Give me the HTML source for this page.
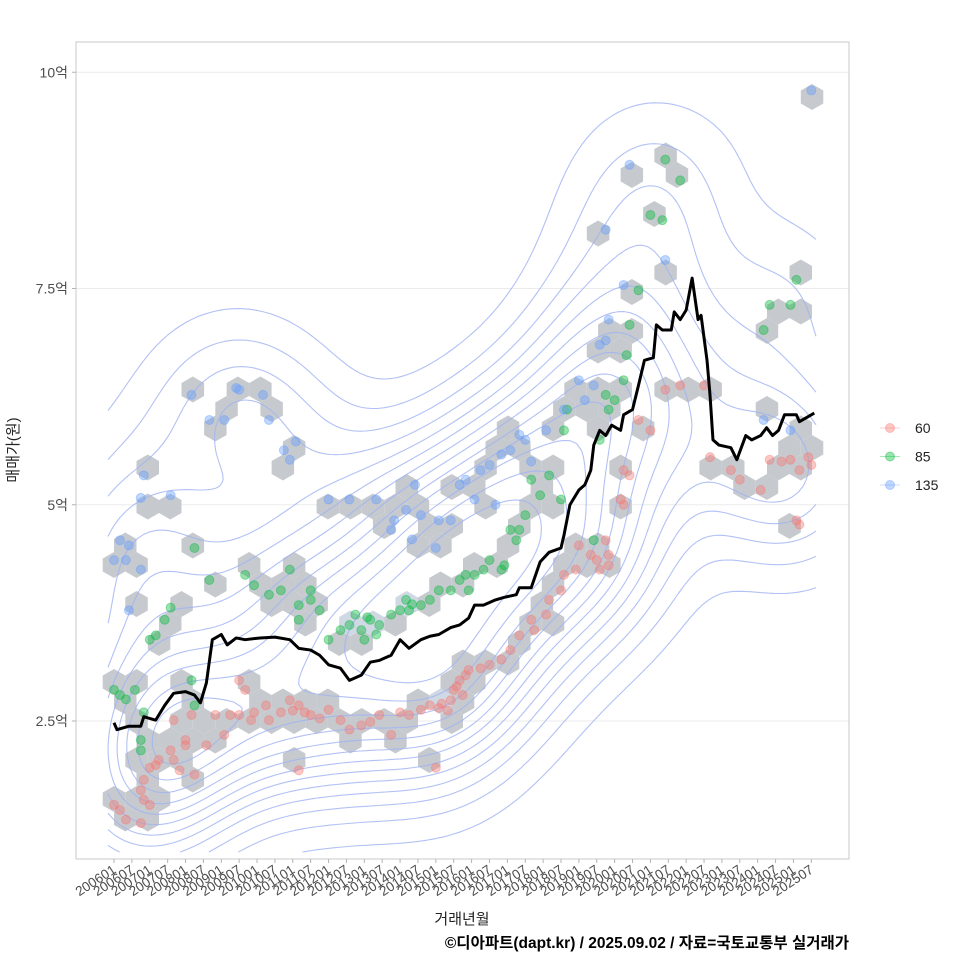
<!DOCTYPE html>
<html><head><meta charset="utf-8"><style>
body{margin:0;background:#fff}
svg text{font-family:"Liberation Sans","Noto Sans CJK KR",sans-serif}
</style></head><body>
<svg id="c" width="960" height="960" xmlns="http://www.w3.org/2000/svg">
<rect x="0" y="0" width="960" height="960" fill="#fff"/>
<g id="grid"></g>
<g id="hex"></g>
<g id="contour"></g>
<g id="pts"></g>
<g id="line"></g>
<rect x="76" y="42" width="773" height="817" fill="none" stroke="#c8c8c8"/>
<g id="axes"></g>
<text x="14" y="450" transform="rotate(-90 14 450)" text-anchor="middle" dominant-baseline="middle" font-size="15" fill="#222">매매가(원)</text>
<text x="462" y="924" text-anchor="middle" font-size="15" fill="#222">거래년월</text>
<text x="849" y="948" text-anchor="end" font-size="15.5" font-weight="bold" fill="#000">©디아파트(dapt.kr) / 2025.09.02 / 자료=국토교통부 실거래가</text>
<g id="legend"></g>
</svg>
<script>
const yTicks=[2.5,5,7.5,10];
const yTickLabels=["2.5억","5억","7.5억","10억"];
const xTickMonths=[];for(let i=0;i<40;i++)xTickMonths.push(i*6);
const xTickLabels=[];for(let i=0;i<40;i++){const yr=2006+Math.floor(i/2);xTickLabels.push(yr+(i%2?"07":"01"));}
const legendLabels=["60","85","135"];
const lineMonths=[0,1,5,9,10,14,17,20,24,27,29,31,33,36,38,41,44,49,54,59,62,66,69,72,76,79,83,86,89,93,96,99,103,106,109,113,116,119,121,124,128,131,135,136,140,143,146,150,151,153,156,158,160,161,163,165,167,170,171,174,176,178,181,182,184,187,188,190,192,194,196,197,199,200,201,203,207,209,212,214,217,219,221,223,225,229,230,234,235];
const lineValues=[2.48,2.4,2.44,2.44,2.55,2.51,2.68,2.82,2.84,2.8,2.71,2.94,3.44,3.5,3.38,3.46,3.44,3.46,3.47,3.44,3.34,3.32,3.26,3.15,3.11,2.97,3.03,3.18,3.2,3.26,3.44,3.34,3.44,3.48,3.5,3.58,3.61,3.69,3.84,3.84,3.9,3.93,3.96,4.04,4.04,4.34,4.45,4.5,4.65,5.0,5.17,5.23,5.4,5.69,5.86,5.8,5.92,5.86,6.04,6.1,6.38,6.67,6.7,7.08,7.02,7.02,7.23,7.14,7.25,7.62,7.14,7.19,6.67,6.27,5.75,5.69,5.66,5.52,5.8,5.75,5.8,5.89,5.8,5.86,6.04,6.04,5.96,6.04,6.06];
const pts60=[[0,1.53],[2,1.47],[4,1.36],[9,1.7],[10,1.82],[12,1.96],[10,1.59],[12,1.53],[9,1.32],[14,1.99],[15,2.05],[19,2.16],[20,2.05],[22,1.93],[24,2.28],[26,2.57],[24,2.22],[20,2.51],[27,1.88],[31,2.22],[34,2.57],[37,2.34],[39,2.57],[42,2.57],[44,2.86],[42,2.97],[46,2.51],[47,2.6],[51,2.68],[52,2.51],[56,2.6],[59,2.74],[62,2.68],[66,2.57],[69,2.53],[72,2.63],[76,2.51],[79,2.4],[83,2.45],[86,2.49],[89,2.57],[93,2.34],[96,2.6],[99,2.57],[103,2.63],[106,2.68],[109,2.65],[113,2.74],[114,2.86],[116,2.97],[118,3.03],[119,3.09],[123,3.11],[126,3.15],[130,3.21],[133,3.32],[136,3.49],[140,3.67],[141,3.55],[145,3.73],[146,3.9],[150,4.01],[151,4.19],[155,4.25],[156,4.53],[160,4.42],[162,4.36],[165,4.59],[166,4.42],[170,5.06],[171,5.4],[173,5.34],[176,5.98],[180,5.86],[185,6.33],[190,6.38],[198,6.38],[207,5.4],[210,5.29],[217,5.17],[220,5.52],[227,5.52],[230,5.4],[234,5.46],[229,4.82],[230,4.77],[108,1.96],[62,1.93],[163,4.25],[166,4.3],[171,5.0],[110,2.7],[112,2.62],[115,2.9],[117,2.8],[60,2.62],[64,2.6],[200,5.55],[224,5.5],[233,5.55]];
const pts85=[[0,2.86],[2,2.8],[7,2.86],[9,2.28],[9,2.16],[12,3.44],[14,3.49],[17,3.67],[19,3.81],[26,2.97],[27,2.68],[27,4.5],[32,4.13],[44,4.19],[47,4.07],[52,3.96],[56,4.01],[59,4.25],[62,3.67],[62,3.84],[66,4.01],[66,3.9],[69,3.78],[72,3.44],[76,3.55],[79,3.61],[81,3.73],[83,3.55],[84,3.44],[86,3.67],[89,3.61],[93,3.73],[96,3.78],[98,3.9],[99,3.78],[103,3.84],[106,3.9],[109,4.01],[113,4.01],[116,4.13],[118,4.19],[119,4.01],[121,4.19],[124,4.25],[126,4.36],[130,4.25],[131,4.3],[133,4.71],[135,4.59],[136,4.71],[138,4.88],[140,5.29],[143,5.11],[146,5.34],[150,5.06],[151,5.86],[152,6.1],[163,5.75],[165,6.27],[166,6.1],[168,6.21],[171,6.44],[172,6.73],[173,7.08],[176,7.48],[180,8.35],[184,8.29],[185,8.99],[190,8.75],[218,7.02],[220,7.31],[227,7.31],[229,7.6],[161,4.59],[85,3.7],[88,3.5],[100,3.85],[4,2.75],[10,2.6]];
const pts135=[[0,4.36],[2,4.59],[4,4.36],[5,4.53],[9,5.08],[10,5.34],[9,4.25],[5,3.78],[19,5.11],[26,6.27],[32,5.98],[37,5.98],[41,6.35],[42,6.33],[50,6.27],[52,5.98],[57,5.63],[59,5.52],[61,5.73],[72,5.06],[79,5.06],[88,5.06],[93,4.71],[94,4.82],[98,4.94],[101,5.23],[103,4.88],[109,4.82],[113,4.82],[116,5.23],[118,5.29],[121,5.06],[123,5.4],[126,5.46],[130,5.58],[133,5.63],[136,5.81],[138,5.75],[145,5.86],[151,6.1],[156,6.44],[158,6.21],[161,6.38],[163,6.85],[165,6.9],[166,7.14],[171,7.54],[165,8.18],[173,8.93],[185,7.83],[234,9.79],[218,5.98],[227,5.86],[100,4.6],[108,4.5],[128,5.0],[140,5.5]];

const X0=114,XM=2.98,Y0=721,YU=86.5;
const sx=m=>X0+m*XM, sy=v=>Y0-(v-2.5)*YU;
const NS="http://www.w3.org/2000/svg";
function mk(t,a,p){const e=document.createElementNS(NS,t);for(const k in a)e.setAttribute(k,a[k]);p.appendChild(e);return e;}
const G=id=>document.getElementById(id);

yTicks.forEach((v,i)=>{
  const l=mk('line',{x1:76,x2:849,y1:sy(v),y2:sy(v),stroke:'#ebebeb','stroke-width':1},G('grid'));
  
  
  const t=mk('line',{x1:72,x2:76,y1:sy(v),y2:sy(v),stroke:'#b3b3b3'},G('axes'));
  
  
  const tx=mk('text',{x:68,y:sy(v)+5,'text-anchor':'end','font-size':14,fill:'#4d4d4d'},G('axes'));
  tx.textContent=yTickLabels[i];
  
  
});
xTickMonths.forEach((m,i)=>{
  const x=sx(m);
  const t=mk('line',{x1:x,x2:x,y1:859,y2:863,stroke:'#b3b3b3'},G('axes'));
  
  
  const tx=mk('text',{x:x+3,y:872,'text-anchor':'end','font-size':13.5,fill:'#4d4d4d',transform:`rotate(-33 ${x+3} 872)`},G('axes'));
  tx.textContent=xTickLabels[i];
  
  
});

const allPts=[...pts60,...pts85,...pts135];
const R=13,S3=Math.sqrt(3);
const bins={};
allPts.forEach(([m,v])=>{
  const px=sx(m)-X0, py=sy(v)-Y0;
  let q=(S3/3*px-py/3)/R, r=(2/3*py)/R, s=-q-r;
  let rq=Math.round(q),rr=Math.round(r),rs=Math.round(s);
  const dq=Math.abs(rq-q),dr=Math.abs(rr-r),ds=Math.abs(rs-s);
  if(dq>dr&&dq>ds)rq=-rr-rs;else if(dr>ds)rr=-rq-rs;
  const k=rq+','+rr;bins[k]=(bins[k]||0)+1;
});
Object.keys(bins).forEach(k=>{
  const [q,r]=k.split(',').map(Number);
  const cx=X0+R*S3*(q+r/2), cy=Y0+R*1.5*r;
  let p=[];for(let i=0;i<6;i++){const a=Math.PI/180*(60*i-30);p.push((cx+R*Math.cos(a)).toFixed(1)+','+(cy+R*Math.sin(a)).toFixed(1));}
  const h=mk('polygon',{points:p.join(' '),fill:bins[k]>=4?'#cfd8e3':'#c6cacf'},G('hex'));
  
  
});

(function(){
  const step=6,xa=108,xb=816,ya=60,yb=856;
  const nx=Math.floor((xb-xa)/step)+1, ny=Math.floor((yb-ya)/step)+1;
  const sgx=55,sgy=60;
  const P=allPts.map(([m,v])=>[sx(m),sy(v)]);
  const D=[];let mx=0;
  for(let j=0;j<ny;j++){D.push([]);for(let i=0;i<nx;i++){const x=xa+i*step,y=ya+j*step;let s=0;
    for(const [px,py] of P){const dx=(x-px)/sgx,dy=(y-py)/sgy;const e=dx*dx+dy*dy;if(e<16)s+=Math.exp(-e/2);}
    D[j].push(s);if(s>mx)mx=s;}}
  let d='';
  const levels=[];for(let k=1;k<=13;k++)levels.push(mx*k/14*0.97);
  const lerp=(a,b,l)=>(l-a)/(b-a);
  for(const L of levels){
    for(let j=0;j<ny-1;j++)for(let i=0;i<nx-1;i++){
      const a=D[j][i],b=D[j][i+1],c=D[j+1][i+1],e=D[j+1][i];
      const x=xa+i*step,y=ya+j*step;const pts=[];
      if((a>L)!=(b>L))pts.push([x+step*lerp(a,b,L),y]);
      if((b>L)!=(c>L))pts.push([x+step,y+step*lerp(b,c,L)]);
      if((e>L)!=(c>L))pts.push([x+step*lerp(e,c,L),y+step]);
      if((a>L)!=(e>L))pts.push([x,y+step*lerp(a,e,L)]);
      for(let k=0;k+1<pts.length;k+=2){d+=`M${pts[k][0].toFixed(1)},${pts[k][1].toFixed(1)}L${pts[k+1][0].toFixed(1)},${pts[k+1][1].toFixed(1)}`;}
    }
  }
  const c=mk('path',{d:d,fill:'none',stroke:'#9fb1f2','stroke-width':1.1,'stroke-opacity':0.8},G('contour'));
  
  
})();

const series=[[pts60,'#f8766d','points-60'],[pts85,'#00ba38','points-85'],[pts135,'#619cff','points-135']];
series.forEach(([arr,col,nm])=>{
  const g=mk('g',{},G('pts'));
  
  
  arr.forEach(([m,v])=>{
    const c=mk('circle',{cx:sx(m),cy:sy(v),r:4.5,fill:col,'fill-opacity':0.4,stroke:col,'stroke-opacity':0.4},g);
    
    
  });
});

const pl=mk('polyline',{points:lineMonths.map((m,i)=>sx(m)+','+sy(lineValues[i])).join(' '),fill:'none',stroke:'#000','stroke-width':3,'stroke-linejoin':'round'},G('line'));



const lcols=['#f8766d','#00ba38','#619cff'];
legendLabels.forEach((lab,i)=>{
  const y=428+i*28.5;
  const g=mk('g',{},G('legend'));
  
  
  mk('line',{x1:880,x2:900,y1:y,y2:y,stroke:lcols[i],'stroke-opacity':0.35},g);
  mk('circle',{cx:890,cy:y,r:4.5,fill:lcols[i],'fill-opacity':0.4,stroke:lcols[i],'stroke-opacity':0.4},g);
  const t=mk('text',{x:915,y:y+5,'font-size':14,fill:'#222'},g);
  t.textContent=lab;
});
</script>
</body></html>
